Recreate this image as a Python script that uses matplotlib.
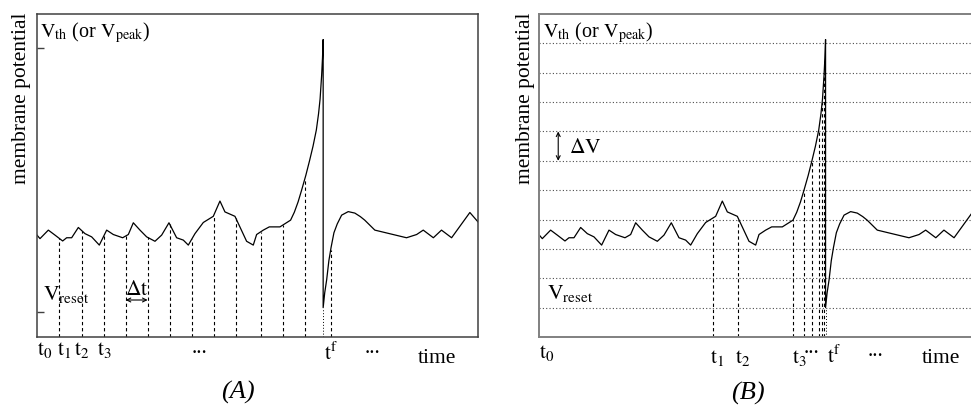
import numpy as np
import matplotlib
matplotlib.use('Agg')
import matplotlib.pyplot as plt

plt.rcParams['font.family'] = ['Liberation Serif', 'DejaVu Serif']
plt.rcParams['mathtext.fontset'] = 'stix'

# membrane potential trace (time in units of dt, potential in units of dV)
time = [0, 0.136, 0.515, 0.818, 1.167, 1.348, 1.576, 1.879, 2.182, 2.485,
        2.833, 3.167, 3.47, 3.894, 4.152, 4.379, 4.682, 4.985, 5.364, 5.667,
        6.0, 6.348, 6.652, 6.879, 7.182, 7.561, 8.015, 8.318, 8.545, 9.0,
        9.53, 9.833, 9.985, 10.288, 10.561, 11.045, 11.53, 11.70, 11.87, 12.03,
        12.22, 12.39, 12.55, 12.70, 12.80, 12.87, 12.94, 12.98, 13.01, 13.01,
        13.08, 13.17, 13.27, 13.37, 13.5, 13.65, 13.85, 14.15, 14.45, 14.7,
        14.9, 15.36, 16.8, 17.26, 17.56, 18.02, 18.39, 18.85, 19.68, 20.05]
potential = [3.47, 3.35, 3.64, 3.47, 3.27, 3.38, 3.38, 3.73, 3.52, 3.41,
             3.13, 3.64, 3.49, 3.38, 3.49, 3.89, 3.64, 3.41, 3.26, 3.47,
             3.89, 3.38, 3.3, 3.13, 3.52, 3.9, 4.11, 4.63, 4.26, 4.11,
             3.26, 3.13, 3.49, 3.64, 3.75, 3.75, 3.98, 4.25, 4.6, 5.0,
             5.5, 6.0, 6.5, 7.05, 7.6, 8.1, 8.9, 9.5, 10.13, 1.0,
             1.5, 1.95, 2.6, 3.05, 3.55, 3.85, 4.15, 4.27, 4.22, 4.1,
             3.98, 3.64, 3.38, 3.49, 3.64, 3.38, 3.64, 3.38, 4.24, 3.92]

t_spike = 13.01
v_reset = 1.0

# (A) regular time steps
samples_A = [1.015, 2.03, 3.03, 4.03, 5.03, 6.03, 7.03, 8.03, 9.03,
             10.18, 11.2, 12.18, 13.35]
# (B) threshold crossings of the voltage grid
samples_B = [7.88, 9.05, 11.53, 12.03, 12.39, 12.69, 12.85, 12.94]
levels_B = [4, 4, 4, 5, 6, 7, 8, 9]
grid_levels = [1, 2, 3, 4, 5, 6, 7, 8, 9, 10]

fig = plt.figure(figsize=(9.71, 4.11), dpi=100)
axA = fig.add_axes([37/971, 1-337/411, 441/971, 323/411])
axB = fig.add_axes([539.3/971, 1-337/411, 431.7/971, 323/411])

dash = (0, (3, 2.5))
fs = 14.5
fst = 15.5

for ax in (axA, axB):
    ax.plot(time, potential, color='black', lw=0.9)
    ax.plot([t_spike, t_spike], [0, v_reset], color='black', lw=0.7,
            linestyle=(0, (1, 2)))
    ax.set_ylim(0, 11.0)
    ax.set_xticks([])

axA.set_xlim(0, 20.05)
axB.set_xlim(0, 19.62)

# panel A
tops = np.interp(samples_A, time[:48], potential[:48])
tops[-1] = np.interp(samples_A[-1], time[49:], potential[49:])
for t, v in zip(samples_A, tops):
    axA.plot([t, t], [0, v], color='black', lw=0.8, linestyle=dash)

axA.set_yticks([9.83, 0.85])
axA.set_yticklabels([])
axA.tick_params(axis='y', direction='in', length=5, color='0.25', width=1)
for s in axA.spines.values():
    s.set_color('0.25')
    s.set_linewidth(1.1)

axA.annotate('', xy=(4.03, 1.26), xytext=(5.03, 1.26),
             arrowprops=dict(arrowstyle='<->', color='black', lw=0.8,
                             shrinkA=0, shrinkB=0, mutation_scale=7))
axA.text(4.53, 1.42, r'$\mathrm{\Delta t}$', ha='center', va='baseline', fontsize=fst)
axA.text(0.14, 10.19, r'$\mathrm{V_{th}}$ (or $\mathrm{V_{peak}}$)', fontsize=fs,
         va='baseline')
axA.text(0.26, 1.26, r'$\mathrm{V_{reset}}$', fontsize=fst, va='baseline')

trA = axA.get_xaxis_transform()
for lab, x in [(r'$\mathrm{t_0}$', 0), (r'$\mathrm{t_1}$', 0.91),
               (r'$\mathrm{t_2}$', 1.68), (r'$\mathrm{t_3}$', 2.73)]:
    axA.text(x, -0.056, lab, transform=trA, fontsize=fst, va='baseline', ha='left')
axA.text(7.38, -0.05, '...', transform=trA, fontsize=fst, ha='center', va='baseline')
axA.text(13.05, -0.07, r'$\mathrm{t^f}$', transform=trA, fontsize=fst, va='baseline')
axA.text(15.25, -0.05, '...', transform=trA, fontsize=fst, ha='center', va='baseline')
axA.text(17.3, -0.08, 'time', transform=trA, fontsize=fst, va='baseline')

# panel B
for v in grid_levels:
    axB.axhline(v, color='0.3', lw=0.8, linestyle=(0, (1, 2)), zorder=0)
for t, v in zip(samples_B, levels_B):
    axB.plot([t, t], [0, v], color='black', lw=0.8, linestyle=dash)

axB.set_yticks([])
for s in axB.spines.values():
    s.set_color('0.5')
    s.set_linewidth(1.4)
axB.spines['right'].set_visible(False)

axB.annotate('', xy=(0.86, 7.0), xytext=(0.86, 6.0),
             arrowprops=dict(arrowstyle='<->', color='black', lw=0.8,
                             shrinkA=0, shrinkB=0, mutation_scale=7))
axB.text(1.35, 6.27, r'$\mathrm{\Delta V}$', fontsize=fst, va='baseline')
axB.text(0.17, 10.19, r'$\mathrm{V_{th}}$ (or $\mathrm{V_{peak}}$)', fontsize=fs,
         va='baseline')
axB.text(0.35, 1.3, r'$\mathrm{V_{reset}}$', fontsize=fst, va='baseline')

trB = axB.get_xaxis_transform()
axB.text(0, -0.065, r'$\mathrm{t_0}$', transform=trB, fontsize=fst, va='baseline')
for lab, x in [(r'$\mathrm{t_1}$', 7.76), (r'$\mathrm{t_2}$', 8.9),
               (r'$\mathrm{t_3}$', 11.47)]:
    axB.text(x, -0.08, lab, transform=trB, fontsize=fst, va='baseline')
axB.text(12.38, -0.05, '...', transform=trB, fontsize=fst, ha='center', va='baseline')
axB.text(13.08, -0.08, r'$\mathrm{t^f}$', transform=trB, fontsize=fst, va='baseline')
axB.text(15.26, -0.06, '...', transform=trB, fontsize=fst, ha='center', va='baseline')
axB.text(17.4, -0.08, 'time', transform=trB, fontsize=fst, va='baseline')

# axis labels and panel letters
for x in (22/971, 525/971):
    fig.text(x, 1-13/411, 'membrane potential', rotation=90, ha='center',
             va='top', fontsize=15.5)
fig.text(238/971, 1-392/411, '(A)', style='italic', fontsize=19,
         ha='center', va='center')
fig.text(748/971, 1-393/411, '(B)', style='italic', fontsize=19,
         ha='center', va='center')

fig.savefig('out.png', dpi=100)
